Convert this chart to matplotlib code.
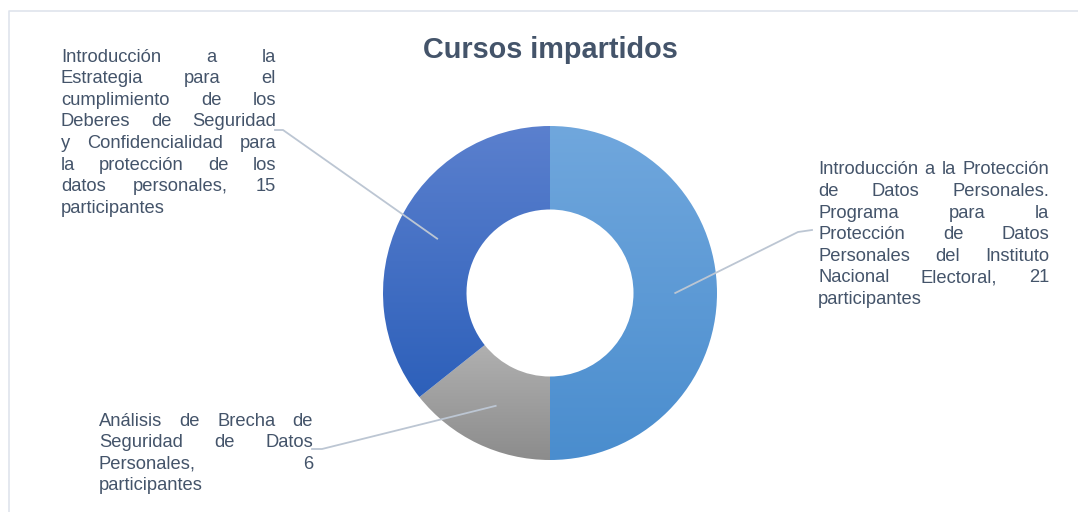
import numpy as np
import matplotlib
matplotlib.use("Agg")
import matplotlib.pyplot as plt
from matplotlib import font_manager
from matplotlib.colors import LinearSegmentedColormap

# datos
cursos = [
    "Introducción a la Protección de Datos Personales. Programa para la Protección de Datos Personales del Instituto Nacional Electoral",
    "Análisis de Brecha de Seguridad de Datos Personales",
    "Introducción a la Estrategia para el cumplimiento de los Deberes de Seguridad y Confidencialidad para la protección de los datos personales",
]
participantes = [21, 6, 15]
colores_arriba = ["#70a7dd", "#b0b0b0", "#5b80ce"]
colores_abajo = ["#4a8dce", "#8c8c8c", "#2d60ba"]

# lineas de cada etiqueta (como en el original, texto justificado)
etiquetas_lineas = [
    ["Introducción a la Protección", "de Datos Personales.", "Programa para la",
     "Protección de Datos", "Personales del Instituto", "Nacional Electoral, 21", "participantes"],
    ["Análisis de Brecha de", "Seguridad de Datos", "Personales, 6", "participantes"],
    ["Introducción a la", "Estrategia para el", "cumplimiento de los", "Deberes de Seguridad",
     "y Confidencialidad para", "la protección de los", "datos personales, 15", "participantes"],
]
# caja de cada etiqueta en pixeles: izquierda, derecha, centro primera linea
cajas = [(818, 1049, 170), (99, 313, 421), (61, 276, 57)]
codos = [((812, 230), (798, 232)), ((312, 449), (322, 449)), ((275, 130), (283, 130))]


def buscar_fuente(nombre):
    for f in font_manager.findSystemFonts():
        if f.endswith(nombre):
            return f
    return None


f_reg = buscar_fuente("LiberationSans-Regular.ttf")
f_bold = buscar_fuente("LiberationSans-Bold.ttf")
fp_reg = font_manager.FontProperties(fname=f_reg) if f_reg else font_manager.FontProperties(family="Liberation Sans")
fp_bold = font_manager.FontProperties(fname=f_bold) if f_bold else font_manager.FontProperties(family="Liberation Sans", weight="bold")

W, H = 1078, 512
fig = plt.figure(figsize=(W / 100, H / 100), dpi=100)
fig.patch.set_facecolor("white")

cx, cy, R = 550, 293, 167
ax = fig.add_axes([(cx - R) / W, (H - cy - R) / H, 2 * R / W, 2 * R / H])
wedges, _ = ax.pie(participantes, radius=1, startangle=90, counterclock=False,
                   wedgeprops=dict(width=0.5, edgecolor="none"))
ax.set_aspect("equal")
ax.axis("off")

# degradado vertical por porcion
for w, c1, c2 in zip(wedges, colores_arriba, colores_abajo):
    bb = w.get_path().get_extents()
    cmap = LinearSegmentedColormap.from_list("g", [c2, c1])
    grad = np.linspace(0, 1, 256).reshape(-1, 1)
    im = ax.imshow(grad, cmap=cmap, origin="lower", aspect="auto",
                   extent=[bb.x0, bb.x1, bb.y0, bb.y1], zorder=1)
    im.set_clip_path(w)
    w.set_facecolor("none")
ax.set_xlim(-1, 1)
ax.set_ylim(-1, 1)

# capa en pixeles para texto y lineas, encima del anillo
over = fig.add_axes([0, 0, 1, 1])
over.set_xlim(0, W)
over.set_ylim(H, 0)
over.axis("off")
over.set_zorder(5)
over.plot([9, 9, W + 5], [H + 5, 11, 11], color="#dfe4ec", lw=1.2, zorder=0)

over.text(cx, 50, "Cursos impartidos", ha="center", va="center",
          fontproperties=fp_bold, fontsize=20.8, color="#44546a")

# lineas guia hacia el punto medio de cada porcion
for w, (p1, p2) in zip(wedges, codos):
    ang = np.deg2rad((w.theta1 + w.theta2) / 2)
    r = 0.75 * R
    px, py = cx + r * np.cos(ang), cy - r * np.sin(ang)
    over.plot([p1[0], p2[0], px], [p1[1], p2[1], py], color="#bcc6d3", lw=1.3, zorder=3)

fig.canvas.draw()
renderer = fig.canvas.get_renderer()
interlinea = 21.6
estilo = dict(fontproperties=fp_reg, fontsize=13.2, color="#44546a", va="center")

for lineas, (x0, x1, y0) in zip(etiquetas_lineas, cajas):
    for i, linea in enumerate(lineas):
        y = y0 + i * interlinea
        palabras = linea.split(" ")
        if i == len(lineas) - 1 or len(palabras) == 1:
            over.text(x0, y, linea, ha="left", **estilo)
            continue
        objs = [over.text(0, y, p, ha="left", **estilo) for p in palabras]
        anchos = [t.get_window_extent(renderer).width for t in objs]
        hueco = (x1 - x0 - sum(anchos)) / (len(palabras) - 1)
        x = x0
        for t, a in zip(objs, anchos):
            t.set_x(x)
            x += a + hueco

fig.savefig("out.png", dpi=100)
